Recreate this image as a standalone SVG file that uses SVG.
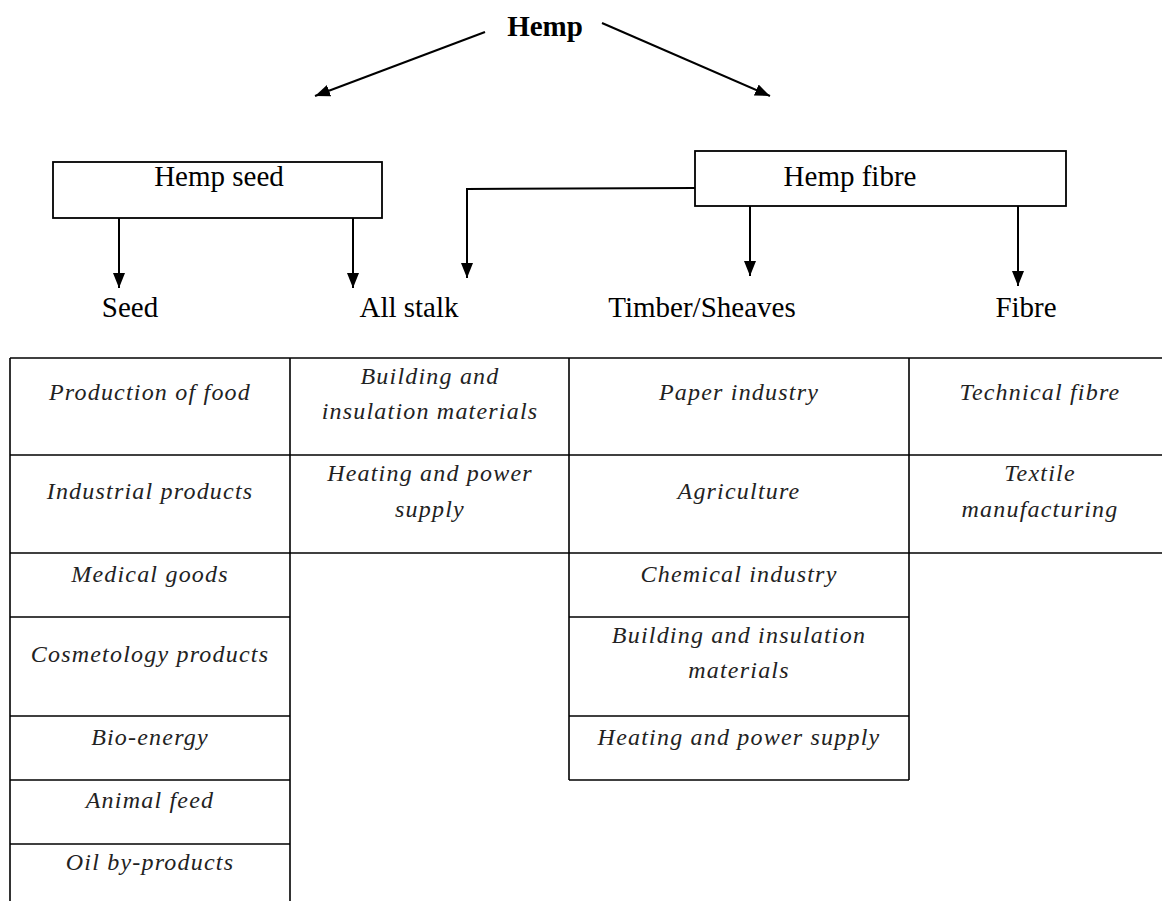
<svg xmlns="http://www.w3.org/2000/svg" width="1162" height="901" viewBox="0 0 1162 901">
<defs>
<marker id="ah" markerUnits="userSpaceOnUse" markerWidth="16" markerHeight="16" viewBox="0 0 16 16" refX="15" refY="8" orient="auto">
<path d="M0,2 L15,8 L0,14 Z" fill="#000"/>
</marker>
<style>
.hd{font-family:"Liberation Serif","Times New Roman",serif;font-size:29px;fill:#000;text-anchor:middle}
.it{font-family:"Liberation Serif","Times New Roman",serif;font-size:24px;font-style:italic;fill:#222;text-anchor:middle;letter-spacing:1.2px}
.ln{stroke:#000;stroke-width:2;fill:none}
.tb{stroke:#000;stroke-width:1.6;fill:none}
.bx{stroke:#000;stroke-width:1.8;fill:#fff}
</style>
</defs>
<rect width="1162" height="901" fill="#fff"/>

<g id="connectors">
<line class="ln" x1="485" y1="32" x2="315" y2="96" marker-end="url(#ah)"/>
<line class="ln" x1="602" y1="23" x2="770" y2="96" marker-end="url(#ah)"/>
<line class="ln" x1="119" y1="218" x2="119" y2="288" marker-end="url(#ah)"/>
<line class="ln" x1="353" y1="218" x2="353" y2="288" marker-end="url(#ah)"/>
<polyline class="ln" points="695,188 467,189 467,278" marker-end="url(#ah)"/>
<line class="ln" x1="750" y1="206" x2="750" y2="276" marker-end="url(#ah)"/>
<line class="ln" x1="1018" y1="206" x2="1018" y2="286" marker-end="url(#ah)"/>
</g>

<g id="hemp"><text class="hd" x="545" y="36" font-weight="bold">Hemp</text></g>
<g id="hemp-seed"><rect class="bx" x="53" y="162" width="329" height="56"/><text class="hd" x="219" y="186">Hemp seed</text></g>
<g id="hemp-fibre"><rect class="bx" x="695" y="151" width="371" height="55"/><text class="hd" x="850" y="186">Hemp fibre</text></g>
<g id="seed"><text class="hd" x="130" y="317">Seed</text></g>
<g id="all-stalk"><text class="hd" x="409" y="317">All stalk</text></g>
<g id="timber"><text class="hd" x="702" y="317">Timber/Sheaves</text></g>
<g id="fibre"><text class="hd" x="1026" y="317">Fibre</text></g>

<g id="table">
<line class="tb" x1="10" y1="358" x2="1162" y2="358"/>
<line class="tb" x1="10" y1="455" x2="1162" y2="455"/>
<line class="tb" x1="10" y1="553" x2="1162" y2="553"/>
<line class="tb" x1="10" y1="617" x2="290" y2="617"/>
<line class="tb" x1="569" y1="617" x2="909" y2="617"/>
<line class="tb" x1="10" y1="716" x2="290" y2="716"/>
<line class="tb" x1="569" y1="716" x2="909" y2="716"/>
<line class="tb" x1="10" y1="780" x2="290" y2="780"/>
<line class="tb" x1="569" y1="780" x2="909" y2="780"/>
<line class="tb" x1="10" y1="844" x2="290" y2="844"/>
<line class="tb" x1="10" y1="358" x2="10" y2="901"/>
<line class="tb" x1="290" y1="358" x2="290" y2="901"/>
<line class="tb" x1="569" y1="358" x2="569" y2="780"/>
<line class="tb" x1="909" y1="358" x2="909" y2="780"/>
</g>

<g id="seed-uses">
<text class="it" x="150" y="400">Production of food</text>
<text class="it" x="150" y="499">Industrial products</text>
<text class="it" x="150" y="582">Medical goods</text>
<text class="it" x="150" y="662">Cosmetology products</text>
<text class="it" x="150" y="745">Bio-energy</text>
<text class="it" x="150" y="808">Animal feed</text>
<text class="it" x="150" y="870">Oil by-products</text>
</g>
<g id="stalk-uses">
<text class="it" x="430" y="384">Building and</text>
<text class="it" x="430" y="419">insulation materials</text>
<text class="it" x="430" y="481">Heating and power</text>
<text class="it" x="430" y="517">supply</text>
</g>
<g id="timber-uses">
<text class="it" x="739" y="400">Paper industry</text>
<text class="it" x="739" y="499">Agriculture</text>
<text class="it" x="739" y="582">Chemical industry</text>
<text class="it" x="739" y="643">Building and insulation</text>
<text class="it" x="739" y="678">materials</text>
<text class="it" x="739" y="745">Heating and power supply</text>
</g>
<g id="fibre-uses">
<text class="it" x="1040" y="400">Technical fibre</text>
<text class="it" x="1040" y="481">Textile</text>
<text class="it" x="1040" y="517">manufacturing</text>
</g>
</svg>
